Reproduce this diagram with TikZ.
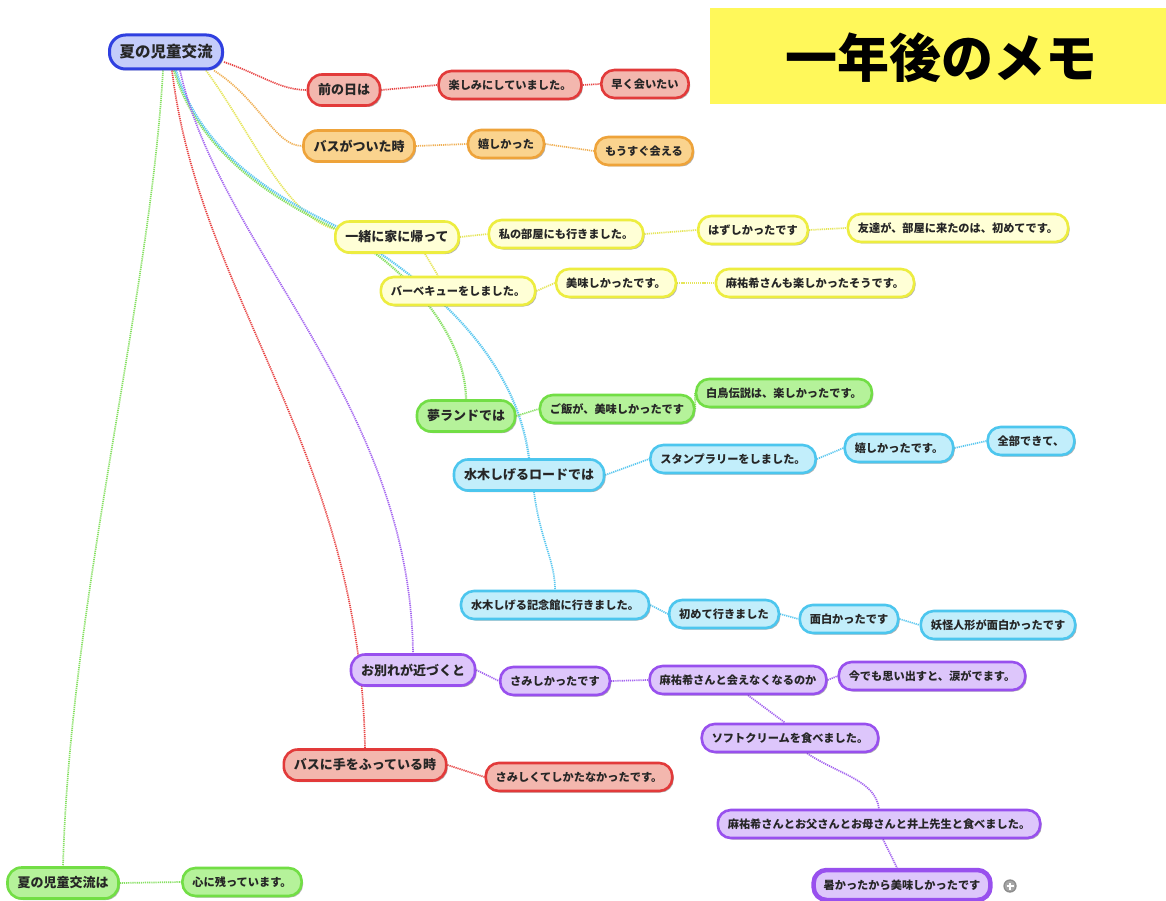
\documentclass[tikz,border=0pt]{standalone}
\usepackage{fontspec}
\setmainfont{Noto Sans CJK JP}
\usetikzlibrary{shadows}
\pgfdeclarelayer{bg}
\pgfdeclarelayer{paper}
\pgfsetlayers{paper,bg,main}
\definecolor{bB}{HTML}{2F3FE0}\definecolor{fB}{HTML}{C4CCFA}
\definecolor{bR}{HTML}{E23A3A}\definecolor{fR}{HTML}{F3B7AE}
\definecolor{bO}{HTML}{EEA33A}\definecolor{fO}{HTML}{FAD38E}
\definecolor{bY}{HTML}{EDED3F}\definecolor{fY}{HTML}{FFFFD6}
\definecolor{bG}{HTML}{72DE45}\definecolor{fG}{HTML}{B5F29A}
\definecolor{bC}{HTML}{4CC6EE}\definecolor{fC}{HTML}{C2EEFB}
\definecolor{bP}{HTML}{9850EE}\definecolor{fP}{HTML}{DDC6FB}
\definecolor{lR}{HTML}{E84545}\definecolor{lO}{HTML}{F0B055}
\definecolor{lY}{HTML}{E6E65A}\definecolor{lG}{HTML}{86E062}
\definecolor{lC}{HTML}{5CC8F0}\definecolor{lP}{HTML}{A465F0}
\definecolor{title}{HTML}{FFF85A}
\tikzset{
  mm/.style={draw, line width=2.6pt, rounded corners=13pt, minimum height=28pt,
    inner xsep=10pt, inner ysep=2pt, text=black!85,
    font=\bfseries\fontsize{11.2}{12}\selectfont,
    drop shadow={shadow xshift=1.5pt, shadow yshift=-1.5pt, opacity=0.3, fill=black}},
  big/.style={mm, minimum height=31pt, rounded corners=14pt, font=\bfseries\fontsize{13}{14}\selectfont},
  cB/.style={draw=bB, fill=fB},
  cR/.style={draw=bR, fill=fR},
  cO/.style={draw=bO, fill=fO},
  cY/.style={draw=bY, fill=fY},
  cG/.style={draw=bG, fill=fG},
  cC/.style={draw=bC, fill=fC},
  cP/.style={draw=bP, fill=fP},
  cn/.style={line width=1.7pt, dash pattern=on 1.2pt off 0.9pt},
}
\begin{document}
\begin{tikzpicture}[x=1pt,y=-1pt]
\useasboundingbox (0,0) rectangle (1166,901);
\begin{pgfonlayer}{paper}
\fill[white] (0,0) rectangle (1166,901);
\end{pgfonlayer}
% title
\fill[title] (710,8) rectangle (1166,104);
\node[font=\bfseries\fontsize{52}{56}\selectfont, text=black] (ttl) at (941,58) {一年後のメモ};
% root
\node[big, cB, line width=3pt, minimum height=34pt, rounded corners=16pt, font=\bfseries\fontsize{15.5}{17}\selectfont] (root) at (166,52) {夏の児童交流};
% red
\node[big, cR] (zen) at (344,90) {前の日は};
\node[mm, cR] (tan) at (510,85) {楽しみにしていました。};
\node[mm, cR] (hay) at (645,84) {早く会いたい};
% orange
\node[big, cO] (bus) at (359,146) {バスがついた時};
\node[mm, cO] (ure) at (506,144) {嬉しかった};
\node[mm, cO] (mou) at (644,151) {もうすぐ会える};
% yellow
\node[big, cY] (iss) at (397,237) {一緒に家に帰って};
\node[mm, cY] (wat) at (566,234) {私の部屋にも行きました。};
\node[mm, cY] (haz) at (753,230) {はずしかったです};
\node[mm, cY] (tom) at (958,228) {友達が、部屋に来たのは、初めてです。};
\node[mm, cY] (bbq) at (458,291) {バーベキューをしました。};
\node[mm, cY] (oii) at (616,283) {美味しかったです。};
\node[mm, cY] (may) at (815,283) {麻祐希さんも楽しかったそうです。};
% green
\node[big, cG] (yum) at (466,416) {夢ランドでは};
\node[mm, cG] (goh) at (617,409) {ご飯が、美味しかったです};
\node[mm, cG] (hak) at (784,393) {白鳥伝説は、楽しかったです。};
% cyan
\node[big, cC] (road) at (529,475) {水木しげるロードでは};
\node[mm, cC] (stp) at (733,459) {スタンプラリーをしました。};
\node[mm, cC] (uret) at (899,448) {嬉しかったです。};
\node[mm, cC] (zenb) at (1031,441) {全部できて、};
\node[mm, cC] (kin) at (555,605) {水木しげる記念館に行きました。};
\node[mm, cC] (haj) at (724,614) {初めて行きました};
\node[mm, cC] (omo) at (849,619) {面白かったです};
\node[mm, cC] (yok) at (998,625) {妖怪人形が面白かったです};
% purple
\node[big, cP] (owa) at (413,670) {お別れが近づくと};
\node[mm, cP] (sam) at (555,681) {さみしかったです};
\node[mm, cP] (mae) at (738,680) {麻祐希さんと会えなくなるのか};
\node[mm, cP] (ima) at (932,676) {今でも思い出すと、涙がでます。};
\node[mm, cP] (sof) at (790,738) {ソフトクリームを食べました。};
\node[mm, cP] (fat) at (879,824) {麻祐希さんとお父さんとお母さんと井上先生と食べました。};
\node[mm, cP, line width=4.5pt, minimum height=30pt] (ats) at (902,885) {暑かったから美味しかったです};
\node[circle, draw=black!45, fill=black!35, line width=1.3pt, minimum size=12pt, inner sep=0pt] (plus) at (1010,886) {};
\draw[white, line width=1.8pt] ([xshift=-3.5pt]plus.center) -- ([xshift=3.5pt]plus.center);
\draw[white, line width=1.8pt] ([yshift=-3.5pt]plus.center) -- ([yshift=3.5pt]plus.center);
% red lower
\node[big, cR] (bte) at (365,765) {バスに手をふっている時};
\node[mm, cR] (sab) at (579,777) {さみしくてしかたなかったです。};
% green lower
\node[big, cG] (nat) at (63,883) {夏の児童交流は};
\node[mm, cG] (koko) at (242,882) {心に残っています。};

\begin{pgfonlayer}{bg}
% main branches
\draw[cn, lR] ([yshift=-10pt]root.east) .. controls (262,75) and (280,90) .. (zen.west);
\draw[cn, lO] ([xshift=48pt]root.south) .. controls (260,100) and (275,146) .. (bus.west);
\draw[cn, lY] ([xshift=40pt]root.south) .. controls (250,130) and (285,215) .. ([yshift=8pt]iss.west);
\draw[cn, lG, line width=2.2pt] ([xshift=8pt]root.south) .. controls (198,150) and (268,197) .. (338,230)
   .. controls (400,262) and (465,330) .. (yum.north);
\draw[cn, lC, line width=2.2pt] ([xshift=10pt]root.south) .. controls (200,150) and (270,195) .. (340,228)
   .. controls (420,275) and (515,350) .. (road.north);
\draw[cn, lP] ([xshift=14pt]root.south) .. controls (220,250) and (410,400) .. (owa.north);
\draw[cn, lR] ([xshift=6pt]root.south) .. controls (200,300) and (360,450) .. (bte.north);
\draw[cn, lG] ([xshift=-3pt]root.south) .. controls (150,300) and (70,600) .. (nat.north);
% red
\draw[cn, lR] (zen.east) -- (tan.west);
\draw[cn, lR] (tan.east) -- (hay.west);
\draw[cn, lR] (bte.east) -- (sab.west);
% orange
\draw[cn, lO] (bus.east) -- (ure.west);
\draw[cn, lO] (ure.east) -- (mou.west);
% yellow
\draw[cn, lY] (iss.east) -- (wat.west);
\draw[cn, lY] (wat.east) -- (haz.west);
\draw[cn, lY] (haz.east) -- (tom.west);
\draw[cn, lY] ([xshift=28pt]iss.south) -- ([xshift=-20pt]bbq.north);
\draw[cn, lY] (bbq.east) -- (oii.west);
\draw[cn, lY] (oii.east) -- (may.west);
% green
\draw[cn, lG] (yum.east) -- (goh.west);
\draw[cn, lG] (goh.east) -- (hak.west);
\draw[cn, lG] (nat.east) -- (koko.west);
% cyan
\draw[cn, lC] (road.east) -- (stp.west);
\draw[cn, lC] (stp.east) -- (uret.west);
\draw[cn, lC] (uret.east) -- (zenb.west);
\draw[cn, lC] ([xshift=5pt]road.south) .. controls (540,540) and (555,560) .. (kin.north);
\draw[cn, lC] (kin.east) -- (haj.west);
\draw[cn, lC] (haj.east) -- (omo.west);
\draw[cn, lC] (omo.east) -- (yok.west);
% purple
\draw[cn, lP] (owa.east) -- (sam.west);
\draw[cn, lP] (sam.east) -- (mae.west);
\draw[cn, lP] (mae.east) -- (ima.west);
\draw[cn, lP] ([xshift=10pt]mae.south) -- ([xshift=-5pt]sof.north);
\draw[cn, lP] ([xshift=17pt]sof.south) .. controls (840,775) and (875,780) .. (fat.north);
\draw[cn, lP] ([xshift=4pt]fat.south) -- ([xshift=-5pt]ats.north);
\end{pgfonlayer}
\end{tikzpicture}
\end{document}
